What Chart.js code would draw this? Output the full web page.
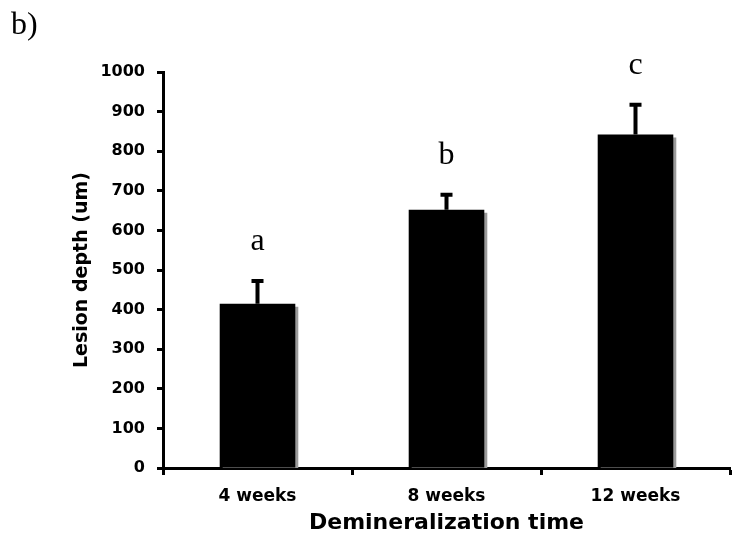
<!DOCTYPE html>
<html>
<head>
<meta charset="utf-8">
<script src="https://cdn.jsdelivr.net/npm/chart.js@4/dist/chart.umd.min.js"></script>
<style>
   html, body { margin: 0; padding: 0; background: #fff; }
   #wrap { position: relative; width: 735px; height: 545px; }
   #panel { position: absolute; left: 11px; top: 5px; font: 32px 'Liberation Serif', serif; color: #000; }
</style>
</head>
<body>
<div id="wrap">
   <canvas id="myChart" width="735" height="545"></canvas>
   <div id="panel">b)</div>
</div>
<script>
const weeks = ['4 weeks', '8 weeks', '12 weeks'];
const depth = [415, 652, 842];
const depthErr = [57, 38, 75];
const groupLetters = ['a', 'b', 'c'];
const yTicks = [0, 100, 200, 300, 400, 500, 600, 700, 800, 900, 1000];

const sansBold = (size) => ({ family: "'DejaVu Sans', Verdana, sans-serif", size: size, weight: 'bold' });

// grey drop shadow behind the bars, like the old spreadsheet look
const barShadow = {
   id: 'barShadow',
   beforeDatasetsDraw(chart) {
      const ctx = chart.ctx;
      ctx.save();
      ctx.shadowColor = '#9a9a9a';
      ctx.shadowOffsetX = 3;
      ctx.shadowOffsetY = 3;
      ctx.shadowBlur = 0;
   },
   afterDatasetsDraw(chart) {
      chart.ctx.restore();
   }
};

// upper error bars and the significance letters above them
const errorBars = {
   id: 'errorBars',
   afterDatasetsDraw(chart) {
      const ctx = chart.ctx;
      const y = chart.scales.y;
      const meta = chart.getDatasetMeta(0);
      ctx.save();
      ctx.strokeStyle = '#000';
      ctx.fillStyle = '#000';
      ctx.lineWidth = 4;
      meta.data.forEach((bar, i) => {
         const top = y.getPixelForValue(depth[i] + depthErr[i]);
         const base = y.getPixelForValue(depth[i]);
         ctx.beginPath();
         ctx.moveTo(bar.x, base);
         ctx.lineTo(bar.x, top);
         ctx.moveTo(bar.x - 6, top);
         ctx.lineTo(bar.x + 6, top);
         ctx.stroke();

         ctx.font = "32px 'Liberation Serif', serif";
         ctx.textAlign = 'center';
         ctx.textBaseline = 'alphabetic';
         ctx.fillText(groupLetters[i], bar.x, top - 31);
      });
      ctx.restore();
   }
};

const createChart = () => {
   const data = {
      labels: weeks,
      datasets: [{
         data: depth,
         backgroundColor: '#000',
         borderWidth: 0,
         barPercentage: 0.4,
         categoryPercentage: 1.0
      }]
   };
   const config = {
      type: 'bar',
      data: data,
      plugins: [barShadow, errorBars],
      options: {
         responsive: false,
         animation: false,
         layout: { padding: { top: 72, right: 5, left: 0, bottom: 0 } },
         plugins: { legend: { display: false }, tooltip: { enabled: false } },
         scales: {
            x: {
               afterFit: (s) => { s.height = 77; },
               grid: { offset: true, drawOnChartArea: false, tickLength: 7, tickWidth: 3, tickColor: '#000' },
               border: { color: '#000', width: 3 },
               ticks: { color: '#000', font: sansBold(17), padding: 11 },
               title: {
                  display: true,
                  text: 'Demineralization time',
                  color: '#000',
                  font: sansBold(22),
                  padding: { top: 2, bottom: 9 }
               }
            },
            y: {
               min: 0,
               max: 1000,
               afterFit: (s) => { s.width = 163; },
               afterBuildTicks: (s) => { s.ticks = yTicks.map(v => ({ value: v })); },
               grid: { drawOnChartArea: false, tickLength: 6, tickWidth: 3, tickColor: '#000' },
               border: { color: '#000', width: 3 },
               ticks: { color: '#000', font: sansBold(16), padding: 12, callback: (v) => String(v) },
               title: {
                  display: true,
                  text: 'Lesion depth (um)',
                  color: '#000',
                  font: sansBold(19),
                  padding: { top: 71, bottom: 0 }
               }
            }
         }
      }
   };
   const ctx = document.getElementById('myChart').getContext('2d');
   return new Chart(ctx, config);
};

createChart();
</script>
</body>
</html>
